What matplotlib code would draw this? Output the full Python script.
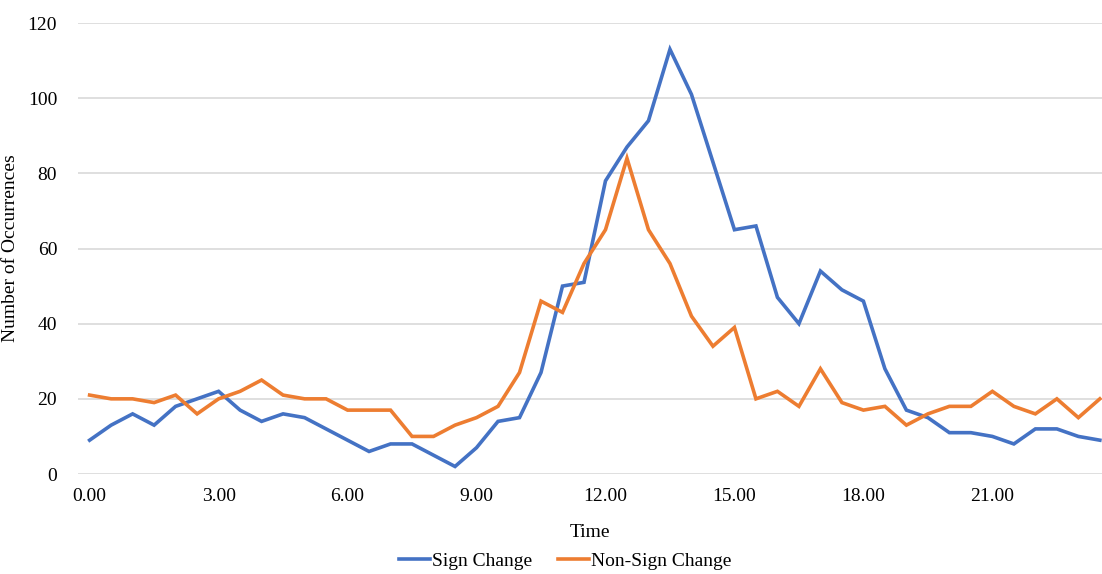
import numpy as np
import matplotlib
matplotlib.use("Agg")
import matplotlib.pyplot as plt

plt.rcParams['font.family'] = ['Liberation Serif', 'DejaVu Serif']

# half-hour time slots
time = np.arange(0, 24, 0.5)
sign_change = [9, 13, 16, 13, 18, 20, 22, 17, 14, 16, 15, 12, 9, 6, 8, 8,
               5, 2, 7, 14, 15, 27, 50, 51, 78, 87, 94, 113, 101, 83, 65, 66,
               47, 40, 54, 49, 46, 28, 17, 15, 11, 11, 10, 8, 12, 12, 10, 9]
non_sign_change = [21, 20, 20, 19, 21, 16, 20, 22, 25, 21, 20, 20, 17, 17, 17, 10,
                   10, 13, 15, 18, 27, 46, 43, 56, 65, 84, 65, 56, 42, 34, 39, 20,
                   22, 18, 28, 19, 17, 18, 13, 16, 18, 18, 22, 18, 16, 20, 15, 20]
xticks = [0, 3, 6, 9, 12, 15, 18, 21]

fig = plt.figure(figsize=(11.02, 5.74), dpi=100)
ax = fig.add_axes([0.0708, 0.1742, 0.9292, 0.7857])

ax.plot(time, sign_change, color='#4472C4', lw=2.6, label='Sign Change',
        solid_joinstyle='miter')
ax.plot(time, non_sign_change, color='#ED7D31', lw=2.6, label='Non-Sign Change',
        solid_joinstyle='miter')

ax.set_xlim(-0.27, 23.55)
ax.set_ylim(0, 120)
ax.set_yticks(range(0, 121, 20))
ax.set_xticks(xticks)
ax.set_xticklabels([f'{t:.2f}' for t in xticks])
ax.tick_params(length=0, labelsize=14)
ax.tick_params(axis='y', pad=15)
ax.tick_params(axis='x', pad=10)
ax.grid(axis='y', color='#D9D9D9', lw=1.2)
ax.set_axisbelow(True)
for s in ax.spines.values():
    s.set_visible(False)

ax.set_ylabel('Number of Occurrences', fontsize=14)
ax.yaxis.set_label_coords(-0.058, 0.5)
ax.set_xlabel('Time', fontsize=14, labelpad=14)

fig.legend(loc='center', bbox_to_anchor=(0.513, 0.022), ncol=2, frameon=False,
           fontsize=14, handlelength=1.6, handletextpad=0.1, columnspacing=1.3,
           borderpad=0.1)

fig.savefig('out.png', dpi=100)
